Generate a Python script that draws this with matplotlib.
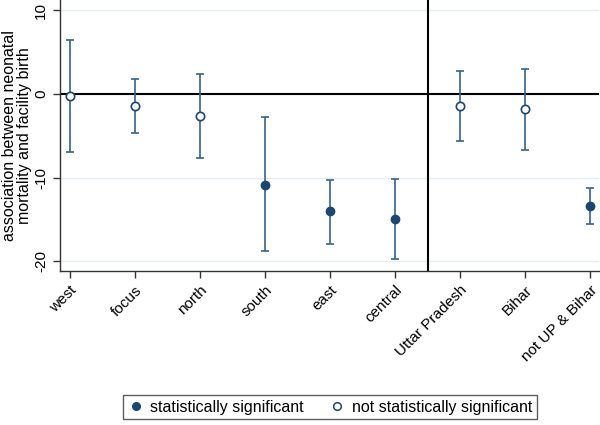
import numpy as np
import matplotlib
matplotlib.use("Agg")
import matplotlib.pyplot as plt
from matplotlib.lines import Line2D

plt.rcParams['font.family'] = ['Liberation Sans', 'DejaVu Sans']

regions = ['west', 'focus', 'north', 'south', 'east', 'central',
           'Uttar Pradesh', 'Bihar', 'not UP & Bihar']
estimate = [-0.2, -1.4, -2.6, -10.9, -14.0, -14.9, -1.4, -1.8, -13.4]
ci_low = [-6.9, -4.7, -7.6, -18.8, -17.9, -19.7, -5.65, -6.7, -15.6]
ci_high = [6.45, 1.75, 2.45, -2.8, -10.3, -10.15, 2.8, 3.05, -11.2]
significant = [False, False, False, True, True, True, False, False, True]

navy = '#1a476f'
bar_col = '#34648f'

fig = plt.figure(figsize=(6, 4.25), dpi=100)
ax = fig.add_axes([0.1, 0.362, 0.898, 0.638])

x = np.arange(1, len(regions) + 1)
est = np.array(estimate)
lo = np.array(ci_low)
hi = np.array(ci_high)

for yv in [10, -10, -20]:
    ax.axhline(yv, color='#e4eef0', lw=1, zorder=0)
ax.axhline(0, color='black', lw=1.5, zorder=1)
ax.axvline(6.5, color='black', lw=1.5, zorder=1)

ax.errorbar(x, est, yerr=[est - lo, hi - est], fmt='none', ecolor=bar_col,
            elinewidth=1.2, capsize=3, capthick=1.2, zorder=2)
for xi, e, s in zip(x, est, significant):
    if s:
        ax.plot(xi, e, 'o', color=navy, ms=6, zorder=3)
    else:
        ax.plot(xi, e, 'o', mfc='white', mec=navy, mew=1.2, ms=6, zorder=3)

ax.set_xlim(0.85, 9.13)
ax.set_ylim(-21.2, 11.25)
ax.set_xticks(x)
ax.set_xticklabels(regions, rotation=45, ha='right', rotation_mode='anchor', fontsize=11)
ax.set_yticks([10, 0, -10, -20])
ax.set_yticklabels(['10', '0', '-10', '-20'], rotation=90, va='center', fontsize=11)
ax.tick_params(axis='both', direction='out', length=5, width=1, color='#333333')
ax.set_ylabel('association between neonatal\nmortality and facility birth', fontsize=11.5,
              linespacing=1.0)
ax.yaxis.set_label_coords(-0.052, 0.5)

for side in ['top', 'right']:
    ax.spines[side].set_visible(False)
for side in ['left', 'bottom']:
    ax.spines[side].set_color('#333333')
    ax.spines[side].set_linewidth(1)

handles = [Line2D([], [], ls='none', marker='o', color=navy, ms=5.5),
           Line2D([], [], ls='none', marker='o', mfc='white', mec=navy, mew=1.1, ms=5.5)]
leg = fig.legend(handles, ['statistically significant', 'not statistically significant'],
                 loc='center', bbox_to_anchor=(0.55, 0.042), ncol=2, fontsize=11.5,
                 frameon=True, fancybox=False, edgecolor='#333333', handletextpad=0.4,
                 columnspacing=1.6, borderpad=0.3, handlelength=1.0)
leg.get_frame().set_linewidth(1)

fig.savefig('out.png', dpi=100)
